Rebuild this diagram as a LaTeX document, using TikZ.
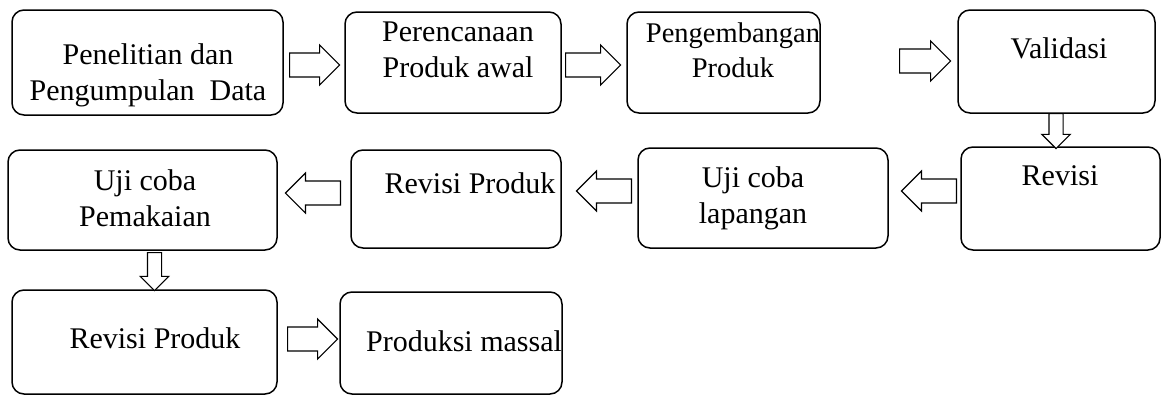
\documentclass[tikz,border=0pt]{standalone}
\usepackage{fontspec}
\setmainfont{Liberation Serif}
\usepackage{tikz}
\usetikzlibrary{shapes, arrows.meta, positioning}

\tikzset{
  stage/.style={draw, line width=1.5pt, rounded corners=12pt, inner sep=0pt},
  lbl/.style={align=center, font=\fontsize{30}{36}\selectfont, inner sep=0pt, anchor=base},
  bigarrow/.style={single arrow, draw, fill=white, line width=1.2pt, inner sep=0pt, anchor=tail,
    text height=20pt, text depth=0pt, minimum width=40pt, single arrow head indent=0pt},
  smallarrow/.style={single arrow, draw, fill=white, line width=1.2pt, inner sep=0pt, anchor=tail,
    text height=13pt, text depth=0pt, minimum width=27pt, single arrow head indent=0pt}
}

\begin{document}
\begin{tikzpicture}[x=1pt, y=-1pt]
        \useasboundingbox (0,0) rectangle (1162,394);

        % Baris pertama
        \node[stage, minimum width=271pt, minimum height=105pt] (teliti) at (147.5,62.5) {};
        \node[stage, minimum width=216pt, minimum height=101pt] (rencana) at (453,62.5) {};
        \node[stage, minimum width=193pt, minimum height=101pt] (kembang) at (723.5,62.5) {};
        \node[stage, minimum width=197pt, minimum height=103pt] (validasi) at (1056.5,61.5) {};

        % Baris kedua
        \node[stage, minimum width=269pt, minimum height=100pt] (ujipakai) at (142.5,200) {};
        \node[stage, minimum width=210pt, minimum height=98pt] (revproduk) at (456,199) {};
        \node[stage, minimum width=250pt, minimum height=100pt] (ujilapang) at (763,198) {};
        \node[stage, minimum width=199pt, minimum height=103pt] (revisi) at (1060.5,198.5) {};

        % Baris ketiga
        \node[stage, minimum width=265pt, minimum height=104pt] (revakhir) at (144.5,342) {};
        \node[stage, minimum width=222pt, minimum height=102pt] (massal) at (451,343) {};

        % Teks
        \node[lbl] (t1) at (148,100) {Penelitian dan\\Pengumpulan\ \ Data};
        \node[lbl] (t2) at (458,77) {Perencanaan\\Produk awal};
        \node[lbl, font=\fontsize{28.5}{35}\selectfont] (t3) at (733,77) {Pengembangan\\Produk};
        \node[lbl] (t4) at (1059,58) {Validasi};
        \node[lbl] (t5) at (145,226) {Uji coba\\Pemakaian};
        \node[lbl] (t6) at (470,193) {Revisi Produk};
        \node[lbl] (t7) at (753,223) {Uji coba\\lapangan};
        \node[lbl] (t8) at (1060,185) {Revisi};
        \node[lbl] (t9) at (155,348) {Revisi Produk};
        \node[lbl] (t10) at (464,351) {Produksi massal};

        % Panah
        \node[bigarrow, minimum height=50pt] (p1) at (289,65) {};
        \node[bigarrow, minimum height=55pt] (p2) at (565,65) {};
        \node[bigarrow, minimum height=51pt] (p3) at (899,61) {};
        \node[smallarrow, minimum height=35pt, rotate=-90] (p4) at (1056,113) {};
        \node[bigarrow, minimum height=55pt, rotate=180] (p5) at (957,191) {};
        \node[bigarrow, minimum height=55pt, rotate=180] (p6) at (632,191) {};
        \node[bigarrow, minimum height=55pt, rotate=180] (p7) at (341,193) {};
        \node[smallarrow, minimum height=38pt, rotate=-90] (p8) at (154.5,252) {};
        \node[bigarrow, minimum height=50pt] (p9) at (287,339) {};
    \end{tikzpicture}
\end{document}
